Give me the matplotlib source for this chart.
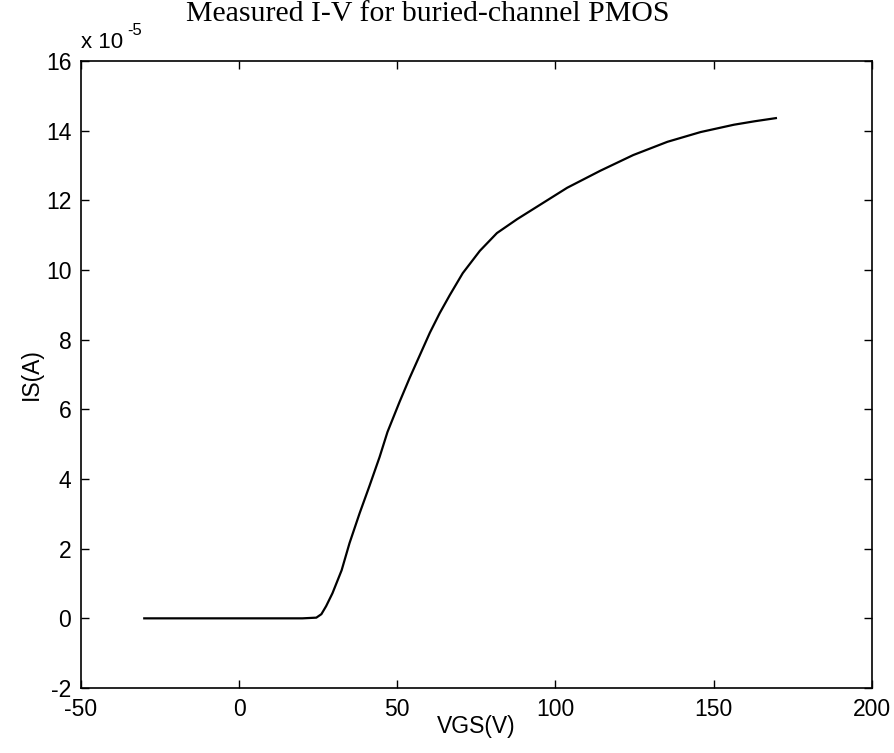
import numpy as np
import matplotlib
matplotlib.use('Agg')
import matplotlib.pyplot as plt

plt.rcParams['axes.unicode_minus'] = False

# measured points (VGS in V, IS in units of 1e-5 A)
vgs = [-30, -10, 10, 20, 24.4, 26, 27.5, 29.5, 32.4, 34.9, 38.1, 41.2, 44.4, 46.9,
       50.7, 53.9, 57.1, 60.3, 63.4, 66.6, 70.7, 76.1, 81.5, 87.9, 95.1, 103.7,
       114.2, 124.6, 135.4, 145.9, 156.4, 163, 169.7]
is_e5 = [0, 0, 0, 0, 0.02, 0.12, 0.35, 0.72, 1.38, 2.16, 3.02, 3.80, 4.63, 5.35,
         6.21, 6.90, 7.55, 8.20, 8.76, 9.28, 9.91, 10.55, 11.06, 11.46, 11.87, 12.36,
         12.85, 13.30, 13.68, 13.96, 14.17, 14.27, 14.36]

x_ticks = [-50, 0, 50, 100, 150, 200]
y_ticks = [-2, 0, 2, 4, 6, 8, 10, 12, 14, 16]

sans = ['Liberation Sans', 'DejaVu Sans']
serif = ['Liberation Serif', 'DejaVu Serif']

fig = plt.figure(figsize=(8.95, 7.53), dpi=100)
ax = fig.add_axes([0.0905, 0.0863, 0.8835, 0.8327])

ax.plot(vgs, is_e5, color='black', linewidth=1.6)

ax.set_xlim(-50, 200)
ax.set_ylim(-2, 16)
ax.set_xticks(x_ticks)
ax.set_yticks(y_ticks)
ax.tick_params(direction='in', length=6, width=1, top=True, right=True,
               labelsize=16.5, pad=7)
for lab in ax.get_xticklabels() + ax.get_yticklabels():
    lab.set_family(sans)
for sp in ax.spines.values():
    sp.set_linewidth(1.2)

ax.set_xlabel('VGS(V)', fontsize=16.5, family=sans, labelpad=-4)
ax.set_ylabel('IS(A)', fontsize=16.5, family=sans, labelpad=2)

# exponent label in MATLAB style: "x 10" with a raised "-5"
ax.text(0.0, 1.012, 'x 10', transform=ax.transAxes, fontsize=16,
        family=sans, ha='left', va='bottom')
ax.text(0.059, 1.036, '-5', transform=ax.transAxes, fontsize=12,
        family=sans, ha='left', va='bottom')

fig.text(0.478, 0.981, 'Measured I-V for buried-channel PMOS', fontsize=21.5,
         family=serif, ha='center', va='center')

fig.savefig('out.png', dpi=100, facecolor='white')
